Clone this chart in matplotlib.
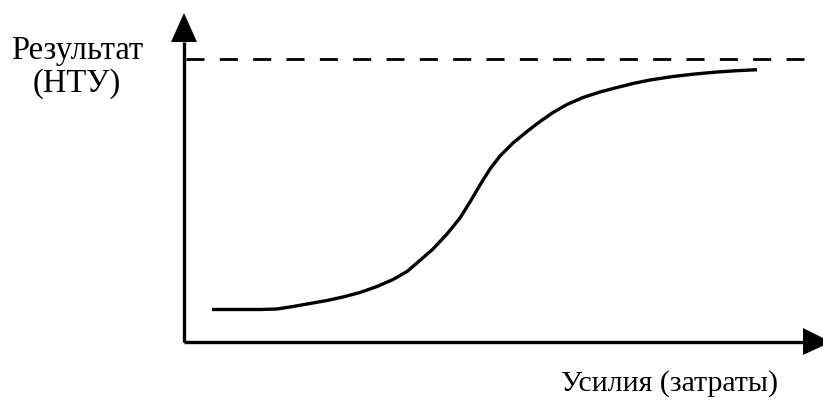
import numpy as np
import matplotlib.pyplot as plt
from matplotlib.patches import Polygon

# S-curve: effort (x) vs result (y), origin at the axes corner
effort = [28, 76, 93, 109, 126, 143, 159, 176, 193, 209, 223, 233, 249, 263, 276, 286, 296, 306,
          316, 329, 343, 356, 369, 383, 399, 416, 433, 449, 466, 489, 511, 533, 553, 573]
result = [32.5, 32.5, 33, 35.5, 38.5, 41.5, 45, 49.5, 55.5, 62.5, 70.5, 79, 93, 108, 124, 140, 157, 173,
          186, 199, 210.5, 220.5, 229.5, 237.5, 244.5, 250, 254.5, 258.5, 262, 265.5, 268, 270, 271.3, 272.3]
limit_level = 283
limit_end = 621

y_label = "Результат\n(НТУ)"
x_label = "Усилия (затраты)"

plt.rcParams['font.family'] = ['Liberation Serif', 'DejaVu Serif']

fig = plt.figure(figsize=(8.23, 4.07), dpi=100)
ax = fig.add_axes([0, 0, 1, 1])
ax.set_xlim(-184, 639)
ax.set_ylim(-65, 342)
ax.axis("off")

# axes lines
ax.plot([0, 0], [0, 300], color="black", lw=2.4, solid_capstyle="butt")
ax.plot([0, 620], [0, 0], color="black", lw=2.4, solid_capstyle="butt")

# arrow heads
ax.add_patch(Polygon([[-13, 300], [13, 300], [0, 329]], closed=True, color="black", lw=0))
ax.add_patch(Polygon([[619, 14], [619, -13], [647, 0]], closed=True, color="black", lw=0))

# saturation level
ax.plot([2, limit_end], [limit_level, limit_level], color="black", lw=2.0,
        dashes=(6.5, 5.5), dash_capstyle="butt")

# curve
ax.plot(effort, result, color="black", lw=2.4, solid_joinstyle="round", solid_capstyle="butt")

ax.text(-107, 275, y_label, ha="center", va="center", fontsize=23.5, linespacing=1.1)
ax.text(486, -42, x_label, ha="center", va="center", fontsize=21.5)

fig.savefig("out.png", dpi=100)
